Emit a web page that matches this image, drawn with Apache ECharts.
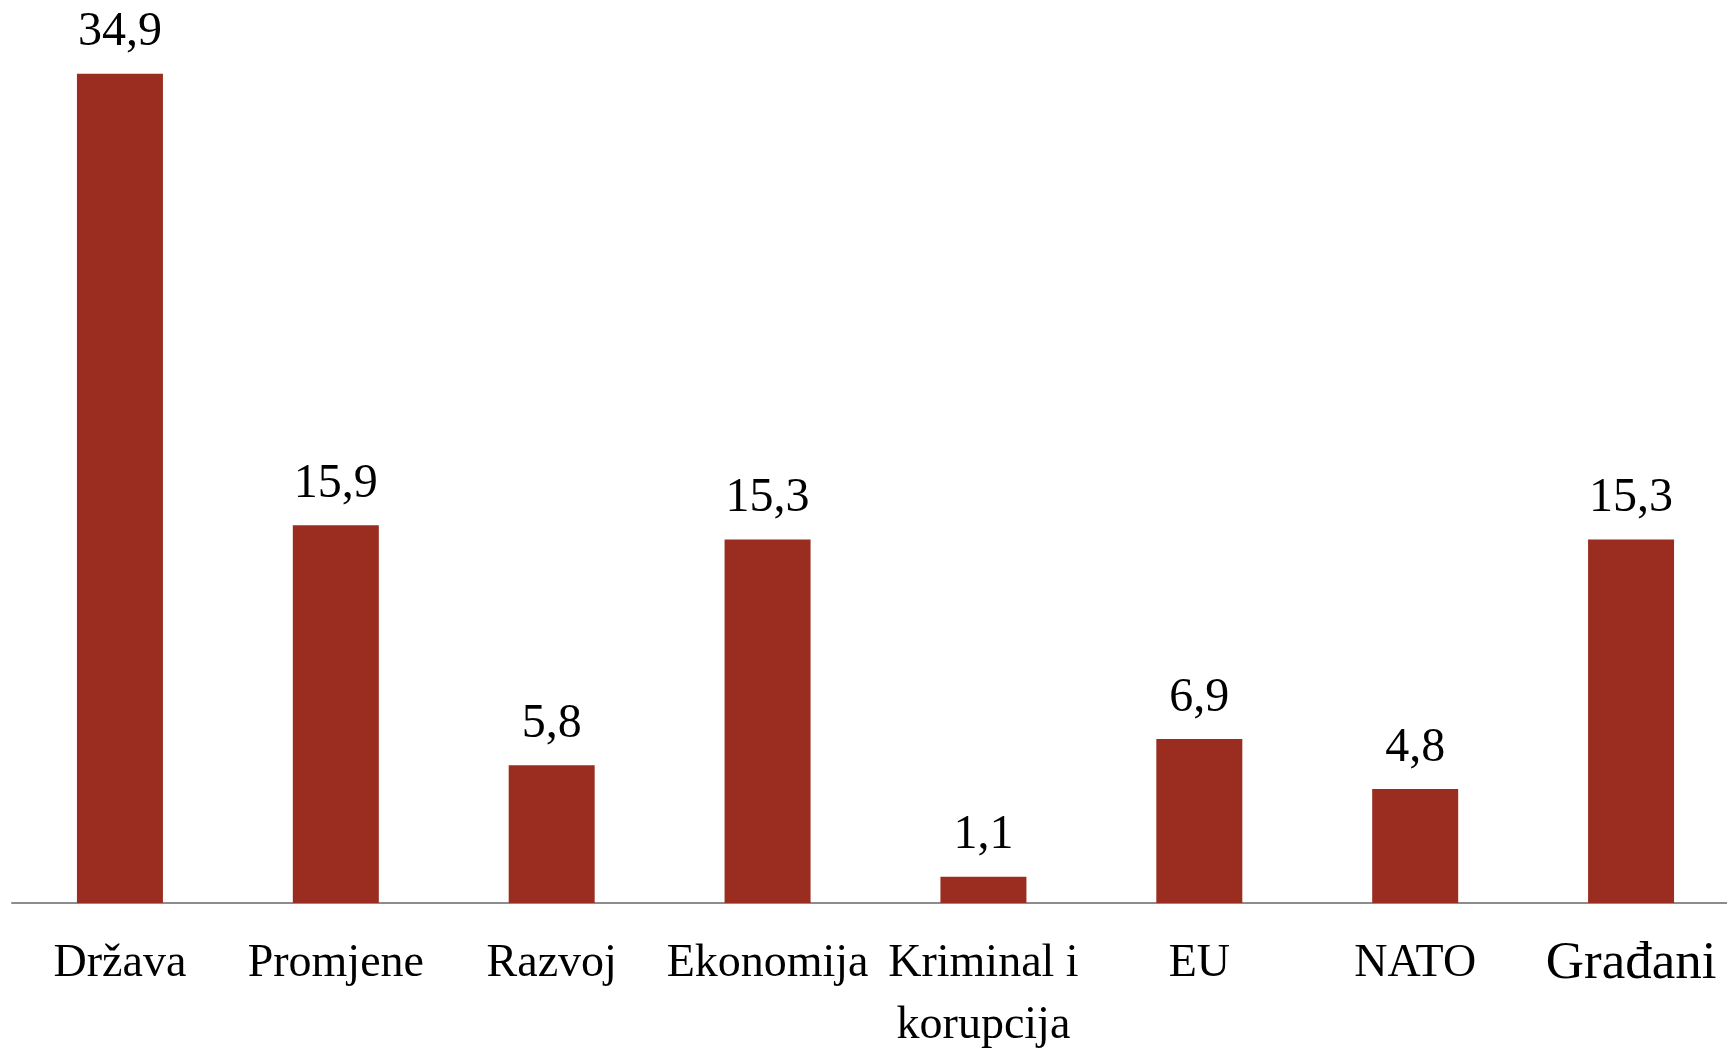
<!DOCTYPE html>
<html>
<head>
<meta charset="utf-8">
<script src="https://cdn.jsdelivr.net/npm/echarts@6/dist/echarts.min.js"></script>
<style>
html, body { margin: 0; padding: 0; background: #fff; }
#bar { width: 1727px; height: 1051px; }
</style>
</head>
<body>
<div id="bar"></div>
<script>
// podaci
var categories = ['Država', 'Promjene', 'Razvoj', 'Ekonomija', 'Kriminal i\nkorupcija', 'EU', 'NATO', 'Građani'];
var values = [34.9, 15.9, 5.8, 15.3, 1.1, 6.9, 4.8, 15.3];

var myChart = echarts.init(document.getElementById('bar'));

var option = {
	animation: false,
	grid: {
		left: 12,
		top: 0,
		width: 1727,
		bottom: 148,
		outerBoundsMode: 'none',
		containLabel: false
	},
	xAxis: {
		type: 'category',
		data: categories,
		axisLine: { lineStyle: { color: '#8c8c8c', width: 2 } },
		axisTick: { show: false },
		axisLabel: {
			margin: 30,
			interval: 0,
			color: '#000',
			fontFamily: 'Liberation Serif',
			fontSize: 46,
			lineHeight: 62,
			formatter: function (v) {
				if (v === 'Građani') return '{big|' + v + '}';
				return v;
			},
			rich: {
				big: { fontSize: 53, fontFamily: 'Liberation Serif', color: '#000', lineHeight: 62 }
			}
		}
	},
	yAxis: {
		type: 'value',
		min: 0,
		max: 38,
		show: false
	},
	series: [{
		type: 'bar',
		data: values,
		barWidth: 86,
		itemStyle: { color: '#9a2d20' },
		label: {
			show: true,
			position: 'top',
			distance: 17,
			color: '#000',
			fontFamily: 'Liberation Serif',
			fontSize: 48,
			formatter: function (p) {
				return String(p.value).replace('.', ',');
			}
		}
	}]
};

myChart.setOption(option);
</script>
</body>
</html>
